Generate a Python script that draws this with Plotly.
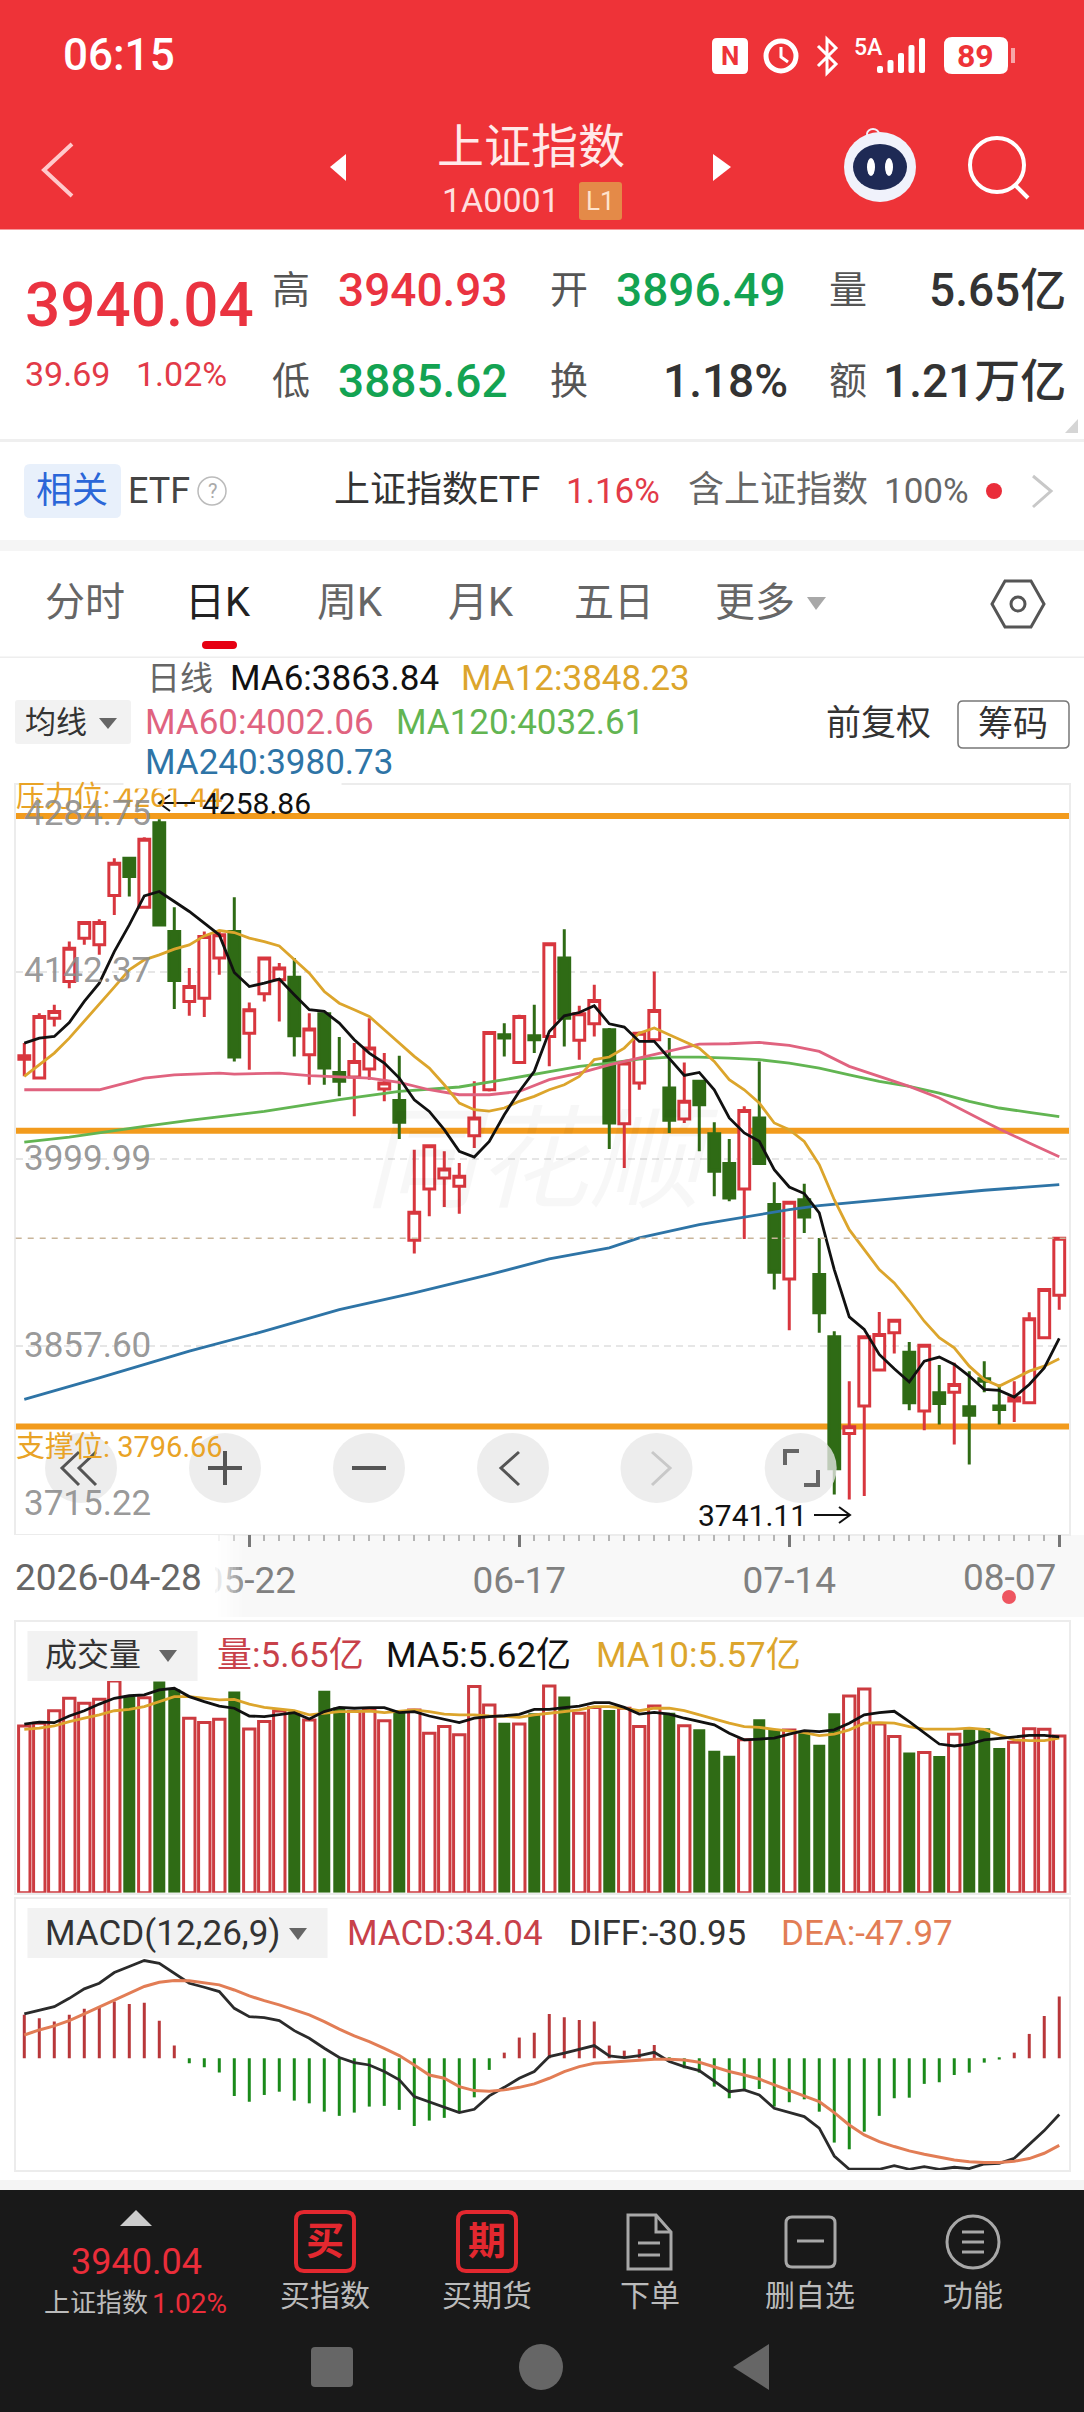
#!/usr/bin/env python3
"""上证指数 daily K-line screen: candles + MA, volume and MACD panels inside the app chrome."""

import plotly.graph_objects as go

W, H = 1084, 2412
CJK = "Roboto, 'Noto Sans CJK SC', sans-serif"

RED = "#d8363e"
GREEN = "#2f6b15"

DAYS = list(range(70))
TICK_DAYS = [15, 33, 51, 69]
TICK_TEXT = ["05-22", "06-17", "07-14", ""]
GRID_LABELS = ["4142.37", "3999.99", "3857.60"]
GRID_VALUES = [4142.37, 3999.99, 3857.60]
PRICE_TOP, PRICE_BOTTOM = 4284.75, 3715.22
RESIST, MIDLINE, SUPPORT = 4261.44, 4021.8, 3796.66
LAST = 3940.04

OPEN = [
    4076.3, 4061.9, 4107.5, 4135.4, 4168.4, 4163.3, 4200.8, 4229.2, 4192.0, 4256.3,
    4173.4, 4120.2, 4122.7, 4153.2, 4173.4, 4096.1, 4126.0, 4136.7, 4138.7, 4079.7,
    4110.8, 4066.2, 4062.7, 4068.8, 4053.5, 4044.9, 3938.4, 3977.5, 3985.8, 3979.5,
    4018.0, 4053.0, 4094.9, 4073.8, 4094.1, 4093.6, 4153.2, 4090.6, 4103.2, 4098.7,
    4027.2, 4058.1, 4091.1, 4054.3, 4030.7, 4059.4, 4019.6, 3996.8, 3977.5, 4031.5,
    3965.6, 3909.0, 3969.3, 3912.3, 3864.9, 3791.4, 3812.2, 3839.6, 3868.0, 3853.2,
    3808.4, 3822.3, 3822.8, 3811.7, 3833.0, 3812.2, 3816.0, 3814.7, 3864.2, 3896.49,
]
CLOSE = [
    4078.9, 4108.8, 4112.6, 4160.8, 4180.3, 4180.3, 4225.4, 4215.3, 4243.7, 4178.5,
    4136.2, 4131.6, 4169.6, 4170.9, 4077.9, 4113.9, 4153.2, 4145.6, 4094.1, 4099.2,
    4069.5, 4059.4, 4074.6, 4084.7, 4058.1, 4028.2, 3959.7, 4010.4, 3992.7, 3987.1,
    4031.5, 4096.6, 4092.3, 4108.8, 4091.1, 4164.1, 4107.5, 4110.8, 4121.0, 4027.7,
    4073.3, 4096.1, 4113.4, 4029.7, 4044.2, 4041.6, 3990.9, 3970.6, 4037.3, 3996.8,
    3914.1, 3967.3, 3956.2, 3883.2, 3764.5, 3796.5, 3864.9, 3866.7, 3877.6, 3814.7,
    3858.6, 3814.2, 3828.6, 3805.3, 3831.2, 3809.6, 3818.5, 3878.6, 3900.9, 3940.04,
]
HIGH = [
    4088.5, 4111.3, 4117.7, 4165.8, 4181.0, 4182.8, 4229.2, 4230.0, 4245.2, 4258.86,
    4192.0, 4145.6, 4173.4, 4173.4, 4199.6, 4119.5, 4153.2, 4149.4, 4153.2, 4111.3,
    4111.3, 4093.1, 4088.5, 4107.5, 4080.9, 4078.9, 4007.4, 4010.4, 4006.1, 3997.2,
    4059.4, 4096.6, 4103.7, 4110.1, 4117.7, 4164.1, 4175.2, 4116.9, 4132.9, 4100.0,
    4073.3, 4097.4, 4143.0, 4092.3, 4073.8, 4060.7, 4028.2, 4015.5, 4040.4, 4074.6,
    3982.5, 3968.1, 3981.5, 3940.2, 3869.2, 3831.2, 3864.9, 3883.9, 3878.6, 3860.9,
    3858.6, 3843.4, 3845.1, 3838.8, 3846.4, 3828.6, 3831.2, 3883.7, 3901.4, 3940.93,
]
LOW = [
    4063.2, 4061.9, 4101.2, 4130.3, 4163.3, 4155.7, 4186.1, 4200.1, 4192.0, 4178.5,
    4114.4, 4109.3, 4108.3, 4140.5, 4074.6, 4068.2, 4120.2, 4105.0, 4078.4, 4056.8,
    4056.8, 4048.0, 4032.8, 4060.7, 4044.2, 4015.5, 3928.3, 3956.7, 3963.8, 3958.7,
    4008.6, 4051.7, 4078.4, 4073.8, 4080.9, 4070.8, 4086.0, 4075.9, 4093.6, 4007.9,
    3993.5, 4053.0, 4091.1, 4020.1, 4027.7, 4006.1, 3971.9, 3968.1, 3939.4, 3996.8,
    3900.9, 3870.0, 3944.0, 3868.0, 3745.0, 3741.11, 3743.7, 3839.6, 3852.2, 3809.1,
    3793.9, 3798.2, 3783.0, 3767.8, 3822.8, 3798.2, 3800.0, 3814.7, 3864.2, 3885.62,
]

MA6 = [
    4088.5, 4092.3, 4093.6, 4104.2, 4120.2, 4134.1, 4158.2, 4178.5, 4200.6, 4203.9,
    4196.3, 4188.7, 4179.8, 4170.9, 4142.3, 4131.6, 4134.1, 4137.2, 4125.3, 4113.9,
    4112.6, 4103.7, 4091.1, 4080.9, 4073.3, 4061.9, 4045.4, 4036.5, 4022.6, 4006.1,
    4001.8, 4013.7, 4034.0, 4051.7, 4067.0, 4097.4, 4109.3, 4111.8, 4116.9, 4103.2,
    4100.7, 4089.8, 4089.8, 4077.1, 4063.9, 4066.2, 4053.0, 4031.5, 4020.1, 4013.7,
    3992.2, 3979.0, 3974.0, 3959.2, 3916.1, 3880.1, 3870.5, 3851.5, 3840.6, 3830.5,
    3846.4, 3849.5, 3843.9, 3835.0, 3824.9, 3824.1, 3819.1, 3828.6, 3841.3, 3863.84,
]
MA12 = [
    4063.2, 4072.0, 4080.9, 4092.3, 4105.0, 4117.7, 4131.1, 4144.3, 4151.9, 4155.7,
    4160.0, 4163.3, 4170.1, 4174.2, 4172.7, 4168.4, 4165.8, 4162.5, 4151.9, 4141.8,
    4127.8, 4118.9, 4113.9, 4108.8, 4098.7, 4088.5, 4078.4, 4069.5, 4056.8, 4042.9,
    4037.8, 4036.8, 4039.1, 4044.2, 4048.0, 4053.0, 4056.8, 4063.2, 4075.9, 4077.9,
    4084.7, 4096.1, 4100.0, 4094.9, 4089.8, 4084.7, 4074.6, 4060.7, 4053.0, 4042.9,
    4027.7, 4022.6, 4013.7, 3996.0, 3969.3, 3946.5, 3931.3, 3916.1, 3906.0, 3892.0,
    3876.8, 3864.2, 3856.5, 3842.6, 3832.4, 3827.4, 3833.0, 3838.8, 3842.6, 3848.23,
]
# the slow averages were read at fewer days, they are smooth enough
MA60_DAYS = [0, 5, 8, 10, 13, 14, 17, 19, 23, 25, 27, 29, 31, 33, 35, 37, 39, 41, 43,
             45, 47, 49, 51, 53, 55, 57, 59, 61, 63, 65, 67, 69]
MA60 = [4053.0, 4053.0, 4061.9, 4064.4, 4065.7, 4064.9, 4065.7, 4063.7, 4061.9, 4058.6,
        4053.0, 4049.2, 4049.2, 4051.7, 4060.7, 4065.7, 4072.0, 4077.1, 4082.2, 4087.8,
        4088.0, 4089.0, 4086.7, 4082.2, 4070.8, 4063.2, 4055.6, 4046.7, 4034.8, 4023.1,
        4012.5, 4002.06]
MA120_DAYS = [0, 3, 8, 11, 16, 21, 25, 29, 32, 35, 37, 39, 41, 43, 45, 47, 49, 51, 53,
              55, 57, 59, 61, 63, 65, 67, 69]
MA120 = [4013.2, 4017.0, 4025.1, 4029.7, 4036.5, 4045.4, 4051.7, 4055.1, 4060.7, 4067.0,
         4070.8, 4073.3, 4076.3, 4077.9, 4077.9, 4077.1, 4075.9, 4073.3, 4069.5, 4064.4,
         4059.4, 4055.6, 4050.5, 4044.2, 4039.1, 4035.8, 4032.61]
MA240_DAYS = [0, 5, 11, 16, 21, 26, 31, 35, 39, 41, 45, 48, 51, 53, 56, 59, 64, 69]
MA240 = [3817.3, 3833.7, 3854.0, 3869.2, 3885.7, 3898.4, 3912.3, 3924.2, 3932.6, 3940.2,
         3950.3, 3956.2, 3961.8, 3964.8, 3968.1, 3971.4, 3976.5, 3980.73]

VOL = [
    6.01, 6.11, 6.56, 7.01, 6.83, 6.97, 7.63, 7.07, 7.03, 7.61,
    7.33, 6.29, 6.14, 6.25, 7.25, 5.90, 6.17, 6.55, 6.53, 6.23,
    7.28, 6.68, 6.53, 6.59, 6.20, 6.53, 6.59, 5.75, 5.99, 5.69,
    7.43, 6.77, 6.13, 6.08, 6.47, 7.45, 7.07, 6.47, 6.68, 6.59,
    6.65, 5.99, 6.73, 6.49, 6.02, 5.89, 5.12, 4.94, 5.51, 6.25,
    5.87, 5.87, 5.81, 5.33, 6.47, 7.09, 7.34, 6.08, 5.63, 5.05,
    5.05, 4.93, 5.71, 5.89, 5.93, 5.22, 5.42, 5.91, 5.89, 5.65,
]
VOL_MA5 = [
    6.08, 6.15, 6.13, 6.37, 6.56, 6.80, 7.01, 7.10, 7.13, 7.31,
    7.37, 7.07, 6.89, 6.73, 6.65, 6.37, 6.35, 6.41, 6.49, 6.26,
    6.53, 6.68, 6.65, 6.67, 6.67, 6.49, 6.53, 6.37, 6.25, 6.13,
    6.29, 6.35, 6.38, 6.43, 6.61, 6.61, 6.67, 6.73, 6.85, 6.85,
    6.68, 6.44, 6.50, 6.44, 6.29, 6.17, 6.05, 5.75, 5.51, 5.54,
    5.57, 5.72, 5.84, 5.81, 5.87, 6.11, 6.41, 6.49, 6.54, 6.17,
    5.75, 5.36, 5.29, 5.36, 5.51, 5.57, 5.63, 5.67, 5.67, 5.62,
]
VOL_MA10 = [
    5.89, 5.93, 6.01, 6.17, 6.29, 6.41, 6.56, 6.61, 6.71, 6.89,
    7.07, 7.07, 7.01, 6.95, 6.97, 6.80, 6.68, 6.61, 6.56, 6.41,
    6.47, 6.53, 6.53, 6.55, 6.49, 6.55, 6.59, 6.53, 6.44, 6.41,
    6.41, 6.37, 6.36, 6.32, 6.41, 6.47, 6.53, 6.59, 6.71, 6.71,
    6.65, 6.56, 6.65, 6.65, 6.56, 6.41, 6.25, 6.11, 5.99, 5.96,
    5.89, 5.84, 5.77, 5.66, 5.72, 5.87, 6.11, 6.13, 6.11, 5.99,
    5.90, 5.90, 5.90, 5.93, 5.89, 5.69, 5.51, 5.48, 5.48, 5.57,
]
MACD = [
    23.9, 22.0, 20.2, 23.9, 27.2, 28.4, 31.2, 29.9, 30.6, 20.6,
    7.0, -2.8, -5.0, -7.9, -20.7, -23.9, -20.2, -18.4, -23.3, -24.8,
    -29.4, -31.7, -29.9, -26.6, -26.2, -28.4, -37.3, -34.3, -32.8, -29.9,
    -21.5, -6.4, 3.1, 11.4, 14.1, 24.4, 22.6, 21.1, 20.2, 7.0,
    4.2, 5.0, 7.3, -0.9, -5.5, -7.9, -15.6, -22.0, -16.9, -16.9,
    -26.6, -24.2, -22.6, -29.4, -46.4, -50.1, -40.4, -31.7, -22.0, -21.7,
    -14.1, -13.2, -9.2, -7.9, -2.4, -0.7, 3.1, 13.4, 23.3, 34.04,
]
DIFF = [
    24.4, 26.6, 28.4, 33.0, 38.2, 41.3, 47.2, 50.5, 53.8, 52.3,
    46.8, 41.3, 39.1, 36.7, 27.5, 22.9, 22.4, 20.7, 15.2, 11.0,
    5.5, 0.4, -2.4, -3.7, -7.3, -11.9, -21.1, -23.9, -27.0, -29.9,
    -28.1, -20.7, -16.0, -11.0, -7.3, 0.9, 2.8, 5.0, 7.0, 1.3,
    0.4, 1.5, 3.3, -1.8, -4.6, -6.8, -12.8, -18.4, -17.4, -20.2,
    -27.5, -29.7, -32.1, -38.5, -53.8, -61.1, -61.1, -61.1, -59.1, -61.1,
    -59.6, -61.1, -60.0, -60.7, -58.2, -57.8, -55.1, -47.7, -39.8, -30.95,
]
DEA = [
    12.8, 15.6, 17.8, 20.7, 24.4, 28.1, 32.1, 35.8, 39.5, 41.8,
    42.8, 42.6, 41.7, 40.4, 37.6, 34.3, 31.7, 29.4, 26.6, 23.9,
    20.2, 16.0, 12.3, 9.2, 5.5, 1.5, -3.7, -9.2, -11.0, -15.6,
    -17.8, -18.2, -17.4, -16.0, -14.1, -11.0, -7.3, -4.6, -2.8, -2.2,
    -1.8, -1.3, -0.6, -0.6, -0.9, -2.2, -4.6, -7.3, -9.2, -11.4,
    -14.7, -17.8, -20.7, -23.9, -29.9, -36.7, -42.2, -45.9, -48.6, -51.0,
    -52.8, -54.5, -56.0, -56.9, -57.4, -57.4, -56.7, -55.2, -52.3, -47.97,
]


def fx(px):
    return px / W


def fy(py):
    return 1 - py / H


annotations = []
shapes = []


def text(x, y, s, size, color, anchor="left", weight=None, **kw):
    font = dict(size=size, color=color, family=CJK)
    if weight:
        font["weight"] = weight
    if anchor == "left":
        x -= 2  # annotation boxes sit a little right of the given x
    annotations.append(
        dict(
            xref="paper", yref="paper", x=fx(x), y=fy(y), text=s, font=font,
            xanchor=anchor, yanchor="middle", showarrow=False, borderpad=0, **kw,
        )
    )


def rect(x0, y0, x1, y1, fill, line=None, width=1, layer="above"):
    shapes.append(
        dict(
            type="rect", xref="paper", yref="paper", x0=fx(x0), x1=fx(x1), y0=fy(y0), y1=fy(y1),
            fillcolor=fill, line=dict(color=line or "rgba(0,0,0,0)", width=width if line else 0),
            layer=layer,
        )
    )


def oval(cx, cy, rx, ry, fill=None, line=None, width=1):
    shapes.append(
        dict(
            type="circle", xref="paper", yref="paper",
            x0=fx(cx - rx), x1=fx(cx + rx), y0=fy(cy - ry), y1=fy(cy + ry),
            fillcolor=fill or "rgba(0,0,0,0)",
            line=dict(color=line or "rgba(0,0,0,0)", width=width if line else 0),
        )
    )


def poly(points, fill=None, line=None, width=1, closed=False):
    d = "M " + " L ".join(f"{fx(x):.5f},{fy(y):.5f}" for x, y in points)
    if closed:
        d += " Z"
    shapes.append(
        dict(
            type="path", xref="paper", yref="paper", path=d,
            fillcolor=fill or "rgba(0,0,0,0)",
            line=dict(color=line or "rgba(0,0,0,0)", width=width if line else 0),
        )
    )


def rrect(x0, y0, x1, y1, r, fill=None, line=None, width=1):
    a, b, c, d = fx(x0), fx(x1), fy(y0), fy(y1)
    dx, dy = r / W, r / H
    path = (
        f"M {a+dx:.5f},{c:.5f} L {b-dx:.5f},{c:.5f} Q {b:.5f},{c:.5f} {b:.5f},{c-dy:.5f} "
        f"L {b:.5f},{d+dy:.5f} Q {b:.5f},{d:.5f} {b-dx:.5f},{d:.5f} "
        f"L {a+dx:.5f},{d:.5f} Q {a:.5f},{d:.5f} {a:.5f},{d+dy:.5f} "
        f"L {a:.5f},{c-dy:.5f} Q {a:.5f},{c:.5f} {a+dx:.5f},{c:.5f} Z"
    )
    shapes.append(
        dict(
            type="path", xref="paper", yref="paper", path=path,
            fillcolor=fill or "rgba(0,0,0,0)",
            line=dict(color=line or "rgba(0,0,0,0)", width=width if line else 0),
        )
    )


def add_chrome():
    # status + nav bar
    rect(0, 0, W, 229.5, "#ee3338", layer="below")
    text(64, 55, "06:15", 44, "#ffffff", weight=500)
    rrect(712, 38, 748, 74, 5, fill="#ffffff")
    text(730, 56, "N", 26, "#ee3338", anchor="center", weight=700)
    oval(781, 56, 15, 15, line="#ffffff", width=5)
    poly([(781, 47), (781, 57), (788, 62)], line="#ffffff", width=3)
    poly([(818, 46), (836, 64), (827, 73), (827, 39), (836, 48), (818, 66)], line="#ffffff", width=3)
    text(868, 47, "5A", 23, "#ffffff", anchor="center", weight=500)
    for k, top in enumerate([66, 60, 53, 45, 38]):
        rrect(877 + k * 10.5, top, 883 + k * 10.5, 73, 2, fill="#ffffff")
    rrect(944, 37, 1008, 74, 8, fill="#ffffff")
    text(975, 56, "89", 32, "#ee3338", anchor="center", weight=700)
    rect(1011, 48, 1015, 63, "#f7a6a8")
    poly([(72, 144), (44, 170), (72, 196)], line="#ffc9cb", width=4)
    poly([(346, 154), (330, 167), (346, 181)], fill="#ffffff", closed=True)
    poly([(713, 154), (731, 167), (713, 181)], fill="#ffffff", closed=True)
    text(531, 147, "上证指数", 47, "#ffe9e9", anchor="center")
    text(501, 200, "1A0001", 34, "#ffdede", anchor="center")
    rrect(579, 182, 622, 220, 3, fill="#e48a48")
    text(600, 201, "L1", 26, "#ffe3cc", anchor="center")
    oval(880, 167, 36, 35, fill="#f0f2fb")
    oval(880, 167, 27, 23, fill="#1e2a55")
    oval(871, 167, 4, 9, fill="#ffffff")
    oval(889, 167, 4, 9, fill="#ffffff")
    oval(873, 134, 6, 5, line="#f0f2fb", width=2)
    oval(997, 165, 27, 27, line="#ffffff", width=4)
    poly([(1016, 186), (1028, 198)], line="#ffffff", width=4)

    # quote block
    text(26, 305, "3940.04", 62, "#ea3340", weight=500)
    text(26, 374, "39.69", 34, "#e23a48")
    text(137, 374, "1.02%", 34, "#e23a48")
    for x, y, s in [(273, 290, "高"), (551, 290, "开"), (830, 290, "量"),
                    (273, 381, "低"), (551, 381, "换"), (830, 381, "额")]:
        text(x, y, s, 38, "#555555")
    text(339, 290, "3940.93", 46, "#ea3340", weight=500)
    text(617, 290, "3896.49", 46, "#13a352", weight=500)
    text(339, 381, "3885.62", 46, "#13a352", weight=500)
    text(1067, 290, "5.65亿", 46, "#333333", anchor="right", weight=500)
    text(789, 381, "1.18%", 46, "#333333", anchor="right", weight=500)
    text(1067, 381, "1.21万亿", 46, "#333333", anchor="right", weight=500)
    poly([(1078, 419), (1078, 433), (1065, 433)], fill="#d5d5d5", closed=True)
    rect(0, 439, W, 442, "#efefef")

    # ETF row
    rrect(24, 464, 121, 518, 6, fill="#e8f0fb")
    text(72, 491, "相关", 36, "#2b66d8", anchor="center")
    text(129, 491, "ETF", 36, "#444444")
    oval(212, 491, 14, 14, line="#bbbbbb", width=1.5)
    text(212, 491, "?", 20, "#aaaaaa", anchor="center")
    text(335, 490, "上证指数ETF", 36, "#333333")
    text(567, 491, "1.16%", 35, "#e23a48")
    text(689, 490, "含上证指数", 36, "#666666")
    text(885, 491, "100%", 35, "#666666")
    oval(994, 491, 8, 8, fill="#ea2d3a")
    poly([(1033, 476), (1051, 491), (1033, 507)], line="#c8c8c8", width=3)
    rect(0, 540, W, 551, "#f5f5f5")

    # period tabs
    for x, s, col in [(46, "分时", "#666666"), (186, "日K", "#222222"), (318, "周K", "#666666"),
                      (449, "月K", "#666666"), (575, "五日", "#666666"), (716, "更多", "#666666")]:
        text(x, 602, s, 40, col)
    poly([(807, 597), (826, 597), (816, 610)], fill="#a8a8a8", closed=True)
    poly([(1005, 581), (1031, 581), (1044, 604), (1031, 627), (1005, 627), (992, 604)],
         line="#555555", width=3, closed=True)
    oval(1018, 604, 7, 7, line="#555555", width=3)
    rrect(202, 641, 237, 649, 4, fill="#e60012")
    rect(0, 656.5, W, 658, "#eeeeee")

    # chart legend
    text(148, 678, "日线", 33, "#666666")
    text(231, 678, "MA6:3863.84", 35, "#111111")
    text(462, 678, "MA12:3848.23", 35, "#dca52c")
    text(146, 722, "MA60:4002.06", 35, "#e0637f")
    text(397, 722, "MA120:4032.61", 35, "#62b552")
    rrect(15, 700, 131, 744, 3, fill="#f2f2f2")
    text(26, 722, "均线", 31, "#333333")
    poly([(99, 718), (117, 718), (108, 729)], fill="#666666", closed=True)
    text(827, 723, "前复权", 35, "#333333")
    rrect(958, 701, 1069, 748, 5, line="#777777", width=1.5)
    text(1013, 724, "筹码", 35, "#333333", anchor="center")

    # levels and extreme markers; the resistance label is cut by the panel top
    text(17, 797, "压力位: 4261.44", 29, "#e9a326")
    annotations.append(
        dict(
            xref="paper", yref="paper", x=fx(123), y=fy(780), text=" ", width=215, height=14,
            bgcolor="#ffffff", showarrow=False, yanchor="middle", font=dict(size=6),
        )
    )
    text(146, 763, "MA240:3980.73", 35, "#2e74a6")
    text(17, 1447, "支撑位: 3796.66", 29, "#e9a326")
    text(25, 813, "4284.75", 35, "rgba(140,140,140,0.9)")
    for lab, y in zip(GRID_LABELS, [970, 1158, 1345]):
        text(25, y, lab, 35, "rgba(140,140,140,0.9)")
    text(25, 1503, "3715.22", 35, "rgba(140,140,140,0.9)")
    text(203, 803, "4258.86", 30, "#111111")
    poly([(195, 803), (159, 803)], line="#111111", width=2)
    poly([(170, 795), (159, 803), (170, 811)], line="#111111", width=2)
    text(699, 1515, "3741.11", 30, "#111111")
    poly([(814, 1515), (850, 1515)], line="#111111", width=2)
    poly([(839, 1507), (850, 1515), (839, 1523)], line="#111111", width=2)
    text(542, 1160, "<i>同花顺</i>", 112, "rgba(0,0,0,0.03)", anchor="center")

    # zoom buttons on the chart
    for cx in [81, 225, 369, 513, 656.5, 800.7]:
        oval(cx, 1468, 36, 35, fill="rgba(232,232,232,0.78)")
    poly([(79, 1452), (62, 1468), (79, 1485)], line="#555555", width=3)
    poly([(96, 1452), (79, 1468), (96, 1485)], line="#555555", width=3)
    poly([(208, 1468), (242, 1468)], line="#555555", width=4)
    poly([(225, 1451), (225, 1485)], line="#555555", width=4)
    poly([(352, 1468), (386, 1468)], line="#555555", width=4)
    poly([(519, 1452), (501, 1468), (519, 1485)], line="#555555", width=3)
    poly([(652, 1452), (670, 1468), (652, 1485)], line="#c8c8c8", width=3)
    poly([(785, 1465), (785, 1451), (799, 1451)], line="#666666", width=4)
    poly([(804, 1485), (818, 1485), (818, 1470)], line="#666666", width=4)

    # date strip: the left end is washed out by the first-date label
    rect(0, 1535, W, 1617, "#f8f8f8", layer="below")
    rect(0, 1535, 212, 1617, "#ffffff")
    for k in range(11):
        rect(212 + k * 3, 1535, 215 + k * 3, 1617, f"rgba(255,255,255,{1 - k / 11:.2f})")
    text(16, 1577, "2026-04-28", 37, "#666666")
    text(1009, 1577, "08-07", 37, "#808080", anchor="center")
    oval(1009, 1597, 7, 7, fill="#ee5560")

    # volume legend
    rect(27.5, 1631, 197.5, 1681, "#f2f2f2")
    text(46, 1655, "成交量", 32, "#333333")
    poly([(159, 1650), (177, 1650), (168, 1662)], fill="#666666", closed=True)
    text(218, 1655, "量:5.65亿", 35, "#c8414a")
    text(387, 1655, "MA5:5.62亿", 35, "#111111")
    text(597, 1655, "MA10:5.57亿", 35, "#dca52c")

    # MACD legend
    rect(27.5, 1908, 327.5, 1958, "#f2f2f2")
    text(46, 1933, "MACD(12,26,9)", 35, "#333333")
    poly([(289, 1928), (307, 1928), (298, 1940)], fill="#666666", closed=True)
    text(348, 1933, "MACD:34.04", 35, "#c8414a")
    text(570, 1933, "DIFF:-30.95", 35, "#333333")
    text(782, 1933, "DEA:-47.97", 35, "#e27d55")

    # bottom bar
    rect(0, 2180, W, 2190, "#f4f4f4")
    rect(0, 2190, W, H, "#191919")
    poly([(136, 2210), (152, 2226), (120, 2226)], fill="#cccccc", closed=True)
    text(136, 2262, "3940.04", 36, "#ea2d3a", anchor="center")
    text(45, 2303, "上证指数", 26, "#bbbbbb")
    text(153, 2303, "1.02%", 28, "#ea2d3a")
    for x0, s in [(296, "买"), (458, "期")]:
        rrect(x0, 2212, x0 + 58, 2271, 8, line="#e3282f", width=4)
        text(x0 + 29, 2241, s, 38, "#e3282f", anchor="center", weight=700)
    for cx, s in [(325, "买指数"), (487, "买期货"), (650, "下单"), (810, "删自选"), (973, "功能")]:
        text(cx, 2295, s, 30, "#bbbbbb", anchor="center")
    poly([(628, 2215), (656, 2215), (671, 2232), (671, 2269), (628, 2269)], line="#a8a8a8", width=3, closed=True)
    poly([(656, 2215), (656, 2232), (671, 2232)], line="#a8a8a8", width=3)
    poly([(638, 2243), (660, 2243)], line="#a8a8a8", width=3)
    poly([(638, 2255), (660, 2255)], line="#a8a8a8", width=3)
    rrect(786, 2217, 835, 2267, 6, line="#a8a8a8", width=3)
    poly([(797, 2241), (824, 2241)], line="#a8a8a8", width=3)
    oval(973, 2242, 26, 26, line="#a8a8a8", width=3)
    for y in [2232, 2242, 2252]:
        poly([(962, y), (984, y)], line="#a8a8a8", width=3)
    rrect(311, 2347, 353, 2387, 4, fill="#666666")
    oval(541, 2367, 22, 23, fill="#666666")
    poly([(769, 2344), (769, 2390), (733, 2367)], fill="#666666", closed=True)


def panel_axis(py_top, py_bottom):
    """x domain is shared by the three panels, y domain comes from pixel rows."""
    return [fy(py_bottom), fy(py_top)]


X_DOMAIN = [fx(15.7), fx(1069)]
X_RANGE = [-0.573, 69.65]
BORDER = "#ececec"

fig = go.Figure()

for level in [RESIST, MIDLINE, SUPPORT]:
    shapes.append(
        dict(
            type="line", xref="paper", yref="y", x0=X_DOMAIN[0], x1=X_DOMAIN[1], y0=level, y1=level,
            line=dict(color="#f29b1d", width=6), layer="below",
        )
    )

fig.add_trace(
    go.Candlestick(
        x=DAYS, open=OPEN, high=HIGH, low=LOW, close=CLOSE,
        increasing=dict(line=dict(color=RED, width=3), fillcolor="#ffffff"),
        decreasing=dict(line=dict(color=GREEN, width=3), fillcolor=GREEN),
        whiskerwidth=0, hoverinfo="skip", showlegend=False,
    )
)
shapes.append(
    dict(
        type="line", xref="paper", yref="y", x0=X_DOMAIN[0], x1=X_DOMAIN[1], y0=LAST, y1=LAST,
        line=dict(color="#c9b59a", width=1.5, dash="6px,6px"),
    )
)
for days, vals, col in [
    (MA240_DAYS, MA240, "#2e74a6"),
    (MA120_DAYS, MA120, "#62b552"),
    (MA60_DAYS, MA60, "#e0637f"),
    (DAYS, MA12, "#dca52c"),
    (DAYS, MA6, "#111111"),
]:
    fig.add_trace(
        go.Scatter(x=days, y=vals, mode="lines", line=dict(color=col, width=2.8),
                   hoverinfo="skip", showlegend=False)
    )

up = [c >= o for o, c in zip(OPEN, CLOSE)]
fig.add_trace(
    go.Bar(
        x=DAYS, y=VOL, xaxis="x2", yaxis="y2",
        width=[0.76 if u else 0.8 for u in up],
        marker=dict(
            color=["#ffffff" if u else GREEN for u in up],
            line=dict(color=["#cc3b40" if u else GREEN for u in up], width=[3 if u else 0 for u in up]),
        ),
        hoverinfo="skip", showlegend=False,
    )
)
fig.add_trace(go.Scatter(x=DAYS, y=VOL_MA10, xaxis="x2", yaxis="y2", mode="lines",
                         line=dict(color="#dca52c", width=2.8), hoverinfo="skip", showlegend=False))
fig.add_trace(go.Scatter(x=DAYS, y=VOL_MA5, xaxis="x2", yaxis="y2", mode="lines",
                         line=dict(color="#111111", width=2.8), hoverinfo="skip", showlegend=False))

fig.add_trace(
    go.Bar(
        x=DAYS, y=MACD, xaxis="x3", yaxis="y3", width=0.2,
        marker=dict(color=["#b8373a" if v >= 0 else "#1a8a1a" for v in MACD], line=dict(width=0)),
        hoverinfo="skip", showlegend=False,
    )
)
fig.add_trace(go.Scatter(x=DAYS, y=DIFF, xaxis="x3", yaxis="y3", mode="lines",
                         line=dict(color="#2b2b2b", width=2.8), hoverinfo="skip", showlegend=False))
fig.add_trace(go.Scatter(x=DAYS, y=DEA, xaxis="x3", yaxis="y3", mode="lines",
                         line=dict(color="#e27d55", width=3), hoverinfo="skip", showlegend=False))

add_chrome()

plain_x = dict(domain=X_DOMAIN, range=X_RANGE, showticklabels=False, ticks="", showgrid=False,
               zeroline=False, showline=True, mirror=True, linecolor=BORDER, linewidth=1.5)
plain_y = dict(showticklabels=False, ticks="", showgrid=False, zeroline=False,
               showline=True, mirror=True, linecolor=BORDER, linewidth=1.5)

fig.update_layout(
    width=W,
    height=H,
    margin=dict(l=0, r=0, t=0, b=0),
    paper_bgcolor="#ffffff",
    plot_bgcolor="rgba(0,0,0,0)",
    showlegend=False,
    boxgap=0.15,
    boxgroupgap=0.15,
    shapes=shapes,
    annotations=annotations,
    xaxis=dict(
        domain=X_DOMAIN, range=X_RANGE, anchor="y", rangeslider=dict(visible=False),
        tickmode="array", tickvals=TICK_DAYS, ticktext=TICK_TEXT, ticks="outside",
        ticklen=12, tickwidth=3, tickcolor="#777777",
        tickfont=dict(size=37, color="#808080", family=CJK), ticklabelstandoff=1,
        minor=dict(tick0=0, dtick=1, ticks="outside", ticklen=6, tickwidth=1.5, tickcolor="#b5b5b5"),
        showgrid=False, zeroline=False, showline=True, mirror=True, linecolor=BORDER, linewidth=1.5,
    ),
    yaxis=dict(
        domain=panel_axis(785.3, 1533.5), range=[PRICE_BOTTOM, PRICE_TOP], anchor="x",
        tickmode="array", tickvals=GRID_VALUES, showticklabels=False, ticks="",
        showgrid=True, gridcolor="#e6e6e6", gridwidth=1.5, griddash="7px,5px",
        zeroline=False, showline=True, mirror=True, linecolor=BORDER, linewidth=1.5,
    ),
    xaxis2=dict(anchor="y2", **plain_x),
    yaxis2=dict(domain=panel_axis(1621.7, 1892.7), range=[0, 9.77], anchor="x2", **plain_y),
    xaxis3=dict(anchor="y3", **plain_x),
    yaxis3=dict(domain=panel_axis(1899.3, 2170), range=[-61.5, 87.5], anchor="x3", **plain_y),
)

fig.write_html(
    "out.html",
    config=dict(displayModeBar=False),
    post_script="document.body.style.margin='0';document.documentElement.style.overflow='hidden';",
)
